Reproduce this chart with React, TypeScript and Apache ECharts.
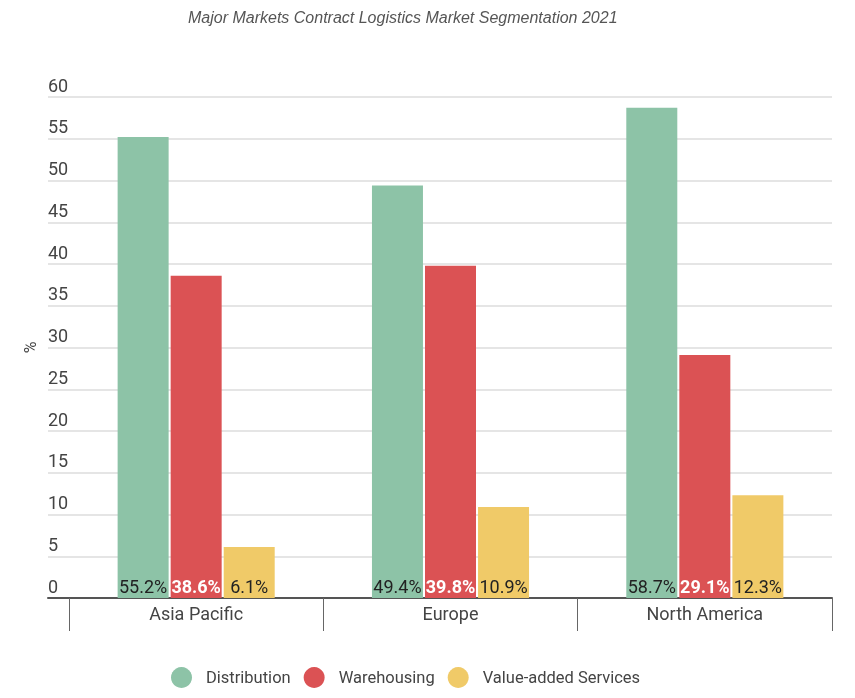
import React, { useEffect, useRef } from "react";
import * as echarts from "echarts";

const categories = ["Asia Pacific", "Europe", "North America"];
const distribution = [55.2, 49.4, 58.7];
const warehousing = [38.6, 39.8, 29.1];
const valueAdded = [6.1, 10.9, 12.3];
const seriesNames = ["Distribution", "Warehousing", "Value-added Services"];
const colors = ["#8dc3a7", "#db5254", "#f0ca68"];

export default function App() {
  const ref = useRef<HTMLDivElement>(null);
  useEffect(() => {
    if (!ref.current) return;
    const chart = echarts.init(ref.current, undefined, { renderer: "svg" });
    const font = "Roboto, 'Noto Sans', sans-serif";
    const mkSeries = (name: string, data: number[], color: string, white: boolean) => ({
      name,
      type: "bar",
      xAxisIndex: 0,
      yAxisIndex: 0,
      data,
      barWidth: 51,
      barGap: "4%",
      itemStyle: { color },
      label: {
        show: true,
        position: "insideBottom",
        distance: 3,
        formatter: "{c}%",
        fontSize: 18,
        fontFamily: font,
        color: white ? "#ffffff" : "#222222",
        fontWeight: white ? "bold" : "normal",
      },
    });
    chart.setOption({
      animation: false,
      textStyle: { fontFamily: font },
      title: {
        text: "Major Markets Contract Logistics Market Segmentation 2021",
        left: 183,
        top: 4,
        textStyle: {
          fontSize: 16,
          fontStyle: "italic",
          fontWeight: "normal",
          color: "#555",
          fontFamily: "'Liberation Sans', Arial, sans-serif",
        },
      },
      legend: {
        bottom: 5,
        left: 166,
        icon: "circle",
        itemWidth: 21,
        itemHeight: 21,
        itemGap: 13,
        textStyle: { fontSize: 16.5, color: "#444", fontFamily: font, padding: [0, 0, 0, 9] },
        data: seriesNames,
      },
      grid: [
        { left: 69, right: 23, top: 97, bottom: 100 },
        { left: 48, width: 21, top: 97, bottom: 100 },
      ],
      xAxis: [
        {
          type: "category",
          gridIndex: 0,
          data: categories,
          axisLine: { lineStyle: { color: "#555", width: 2 } },
          axisTick: { show: true, length: 33, lineStyle: { color: "#666", width: 1 } },
          axisLabel: { fontSize: 18, color: "#444", margin: 6, fontFamily: font },
        },
        {
          type: "value",
          gridIndex: 1,
          min: 0,
          max: 1,
          axisLine: { show: true, lineStyle: { color: "#555", width: 2 } },
          axisTick: { show: false },
          axisLabel: { show: false },
          splitLine: { show: false },
        },
      ],
      yAxis: [
        {
          type: "value",
          gridIndex: 0,
          min: 0,
          max: 60,
          interval: 5,
          name: "%",
          nameLocation: "middle",
          nameGap: 31,
          nameTextStyle: { fontSize: 16, color: "#444", fontFamily: font },
          axisLine: { show: false },
          axisTick: { show: false },
          axisLabel: { show: false },
          splitLine: { lineStyle: { color: "#dddddd", width: 1.5 } },
        },
        {
          type: "value",
          gridIndex: 1,
          min: 0,
          max: 60,
          interval: 5,
          axisLine: { show: false },
          axisTick: { show: false },
          axisLabel: {
            inside: true,
            margin: 0,
            fontSize: 18,
            color: "#444",
            verticalAlign: "bottom",
            padding: [0, 0, 3, 0],
            fontFamily: font,
          },
          splitLine: { lineStyle: { color: "#dddddd", width: 1.5 } },
        },
      ],
      series: [
        mkSeries(seriesNames[0], distribution, colors[0], false),
        mkSeries(seriesNames[1], warehousing, colors[1], true),
        mkSeries(seriesNames[2], valueAdded, colors[2], false),
      ],
    });
    return () => chart.dispose();
  }, []);
  return (
    <div
      ref={ref}
      style={{ position: "fixed", left: 0, top: 0, width: 855, height: 698 }}
    />
  );
}
